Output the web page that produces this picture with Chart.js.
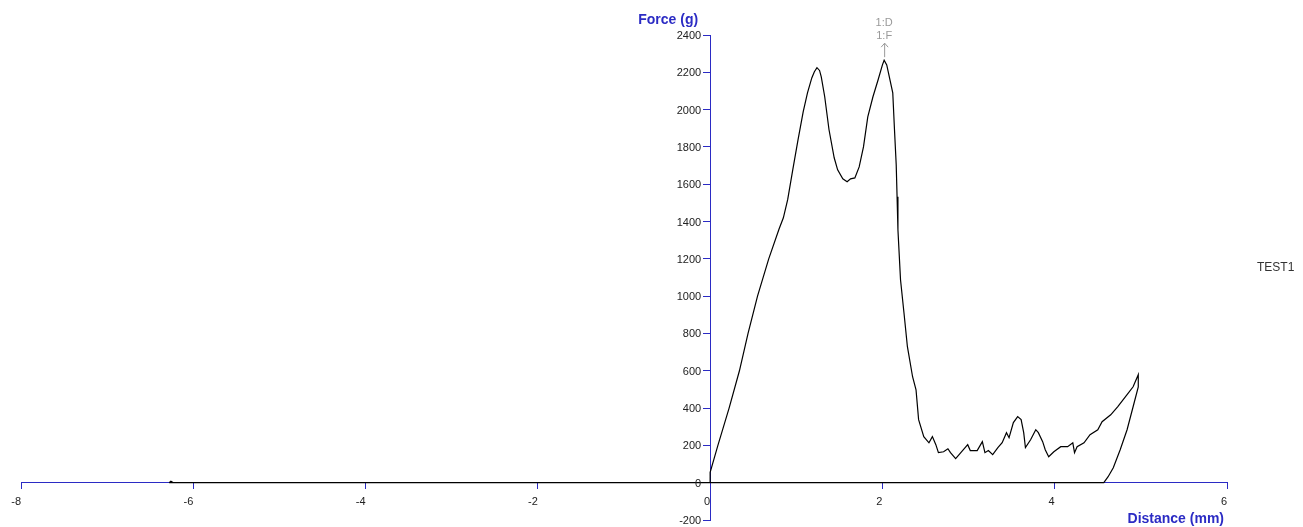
<!DOCTYPE html>
<html>
<head>
<meta charset="utf-8">
<script src="https://cdn.jsdelivr.net/npm/chart.js@4/dist/chart.umd.min.js"></script>
<style>
  html, body { margin: 0; padding: 0; background: #fff; }
  #wrap { width: 1303px; height: 527px; }
</style>
</head>
<body>
<div id="wrap"><canvas id="grafico"></canvas></div>
<script>
// distance (mm) / force (g), in drawing order
let distance = [
  -6.28, -6.26, -6.23, 0, 0, 0.09, 0.22, 0.34, 0.44, 0.55, 0.68, 0.8, 0.85, 0.9, 0.96,
  1.02, 1.08, 1.13, 1.18, 1.21, 1.24, 1.27, 1.29, 1.33, 1.38, 1.44, 1.48, 1.54, 1.59, 1.63,
  1.68, 1.73, 1.78, 1.83, 1.89, 1.95, 2.0, 2.02, 2.05, 2.07, 2.12, 2.14, 2.16, 2.17, 2.18,
  2.21, 2.25, 2.29, 2.35, 2.39, 2.42, 2.48, 2.54, 2.58, 2.62, 2.65, 2.71, 2.76, 2.79, 2.85,
  2.91, 2.99, 3.02, 3.1, 3.16, 3.19, 3.23, 3.28, 3.34, 3.39, 3.44, 3.47, 3.52, 3.57, 3.61,
  3.64, 3.66, 3.72, 3.78, 3.81, 3.86, 3.89, 3.93, 3.99, 4.07, 4.15, 4.21, 4.23, 4.26, 4.34,
  4.41, 4.5, 4.55, 4.65, 4.73, 4.84, 4.91, 4.97, 4.97, 4.91, 4.84, 4.76, 4.68, 4.62, 4.57,
  -6.28,
];
let force = [
  0, 8, 0, 0, 55, 200, 400, 600, 800, 1000, 1200, 1360, 1420, 1517, 1680,
  1838, 1988, 2090, 2170, 2203, 2225, 2210, 2176, 2069, 1892, 1742, 1677, 1629, 1613, 1629,
  1634, 1693, 1800, 1961, 2069, 2160, 2240, 2265, 2240, 2197, 2090, 1892, 1704, 1533, 1356,
  1088, 911, 729, 568, 498, 338, 247, 214, 247, 204, 161, 166, 182, 161, 129,
  161, 204, 172, 172, 220, 161, 172, 150, 188, 214, 268, 241, 322, 354, 338,
  268, 188, 230, 284, 268, 220, 177, 139, 166, 193, 193, 214, 161, 193, 214,
  257, 284, 327, 364, 407, 472, 514, 579, 514, 407, 284, 177, 80, 32, 0,
  0,
];

let xTicks = [-8, -6, -4, -2, 0, 2, 4, 6];
let yTicks = [-200, 0, 200, 400, 600, 800, 1000, 1200, 1400, 1600, 1800, 2000, 2200, 2400];

let serie = "TEST1";
let tituloX = "Distance (mm)";
let tituloY = "Force (g)";
let marcas = ["1:D", "1:F"];

let azul = "#2b2bc4";
let fonte = "'Liberation Sans', Arial, sans-serif";

// texts that the instrument software puts around the axes
const textos = {
  id: "textos",
  afterDraw(chart) {
    let ctx = chart.ctx;
    let sx = chart.scales.x;
    let sy = chart.scales.y;
    let x0 = sx.getPixelForValue(0);
    let y0 = sy.getPixelForValue(0);

    ctx.save();
    ctx.textBaseline = "middle";

    // y tick labels, left of the tick marks
    ctx.fillStyle = "#222";
    ctx.font = "11px " + fonte;
    ctx.textAlign = "right";
    sy.ticks.forEach((t) => {
      ctx.fillText(String(t.value), x0 - 9, sy.getPixelForValue(t.value) + 1);
    });

    ctx.fillStyle = azul;
    ctx.font = "bold 14px " + fonte;
    ctx.textAlign = "right";
    ctx.fillText(tituloY, x0 - 12, sy.top - 15);
    ctx.fillText(tituloX, sx.right - 3, y0 + 36);

    ctx.fillStyle = "#333";
    ctx.font = "12px " + fonte;
    ctx.textAlign = "left";
    ctx.fillText(serie, sx.right + 30, sy.getPixelForValue(1155));

    // peak marker
    let iMax = force.indexOf(Math.max(...force));
    let px = sx.getPixelForValue(distance[iMax]);
    let py = sy.getPixelForValue(force[iMax]);
    ctx.fillStyle = "#999";
    ctx.strokeStyle = "#999";
    ctx.font = "11px " + fonte;
    ctx.textAlign = "center";
    ctx.fillText(marcas[0], px, py - 37);
    ctx.fillText(marcas[1], px, py - 24);
    ctx.lineWidth = 1;
    ctx.beginPath();
    ctx.moveTo(px + 0.5, py - 3);
    ctx.lineTo(px + 0.5, py - 17);
    ctx.moveTo(px - 3, py - 13);
    ctx.lineTo(px + 0.5, py - 17);
    ctx.lineTo(px + 4, py - 13);
    ctx.stroke();
    ctx.restore();
  },
};

let pontos = distance.map((d, i) => ({ x: d, y: force[i] }));

new Chart(document.getElementById("grafico"), {
  type: "scatter",
  data: {
    datasets: [
      {
        label: serie,
        data: pontos,
        showLine: true,
        borderColor: "#000",
        borderWidth: 1.2,
        pointRadius: 0,
        tension: 0,
      },
    ],
  },
  options: {
    responsive: true,
    maintainAspectRatio: false,
    animation: false,
    layout: { padding: { left: 21, right: 76, top: 35, bottom: 7 } },
    plugins: {
      legend: { display: false },
      tooltip: { enabled: false },
    },
    scales: {
      x: {
        type: "linear",
        position: { y: 0 },
        min: -8,
        max: 6,
        afterBuildTicks: (axis) => (axis.ticks = xTicks.map((v) => ({ value: v }))),
        border: { color: azul, width: 1 },
        grid: { drawOnChartArea: false, drawTicks: true, tickLength: 6, color: azul },
        ticks: {
          color: "#222",
          padding: 7,
          align: "end",
          callback: (v) => String(v),
          font: { family: fonte, size: 11 },
        },
      },
      y: {
        type: "linear",
        position: { x: 0 },
        min: -200,
        max: 2400,
        afterBuildTicks: (axis) => (axis.ticks = yTicks.map((v) => ({ value: v }))),
        border: { color: azul, width: 1 },
        grid: { drawOnChartArea: false, drawTicks: true, tickLength: 7, color: azul },
        ticks: { display: false },
      },
    },
  },
  plugins: [textos],
});
</script>
</body>
</html>
